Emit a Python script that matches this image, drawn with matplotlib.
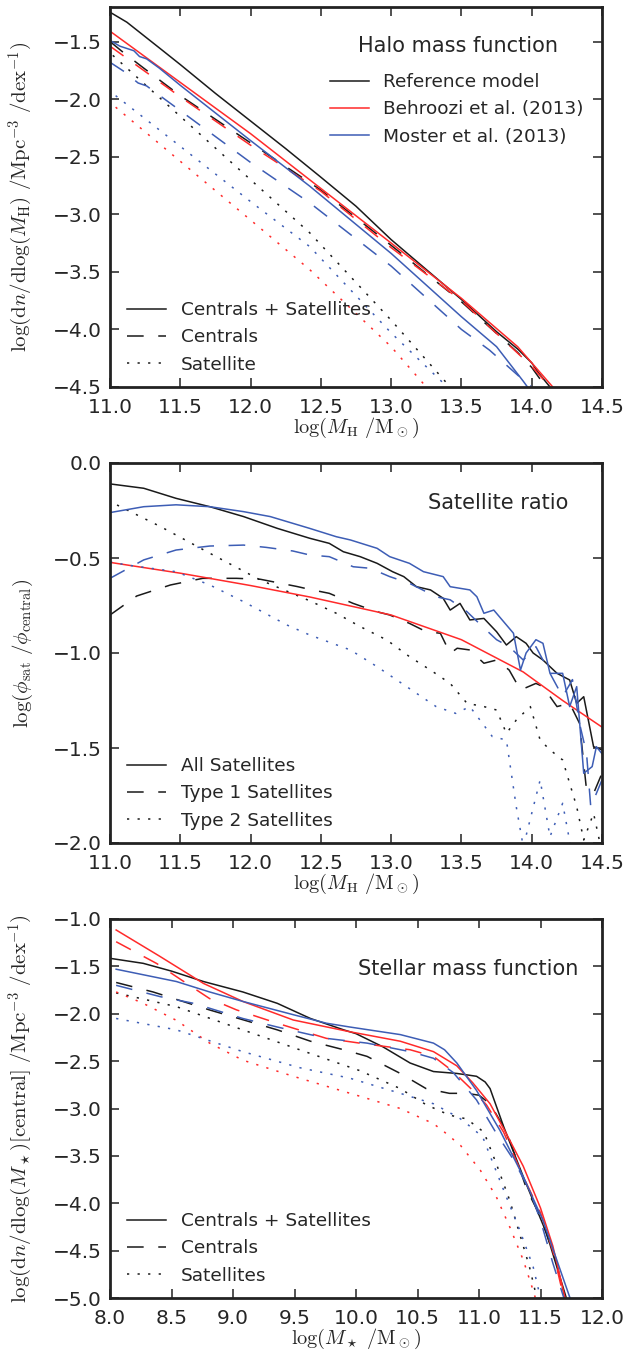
import numpy as np
import matplotlib
matplotlib.use('Agg')
import matplotlib.pyplot as plt
from matplotlib.lines import Line2D

plt.rcParams['font.family'] = ['DejaVu Sans']
plt.rcParams['mathtext.fontset'] = 'cm'
plt.rcParams['lines.scale_dashes'] = False

BLK, RED, BLU = '#1a1a1a', '#ff2a2a', '#3d5db5'
DASH = (0, (12, 10.5))
DOT = (0, (1.6, 6.0))

# ---- panel 1: halo mass function, log(M_H) vs log(dn/dlogM)
hmf_ref_all_x = [11.0, 11.12, 11.24, 11.36, 11.5, 11.75, 12.0, 12.25, 12.49, 12.75, 13.0, 13.25, 13.5, 13.75, 13.9, 14.0, 14.05, 14.13]
hmf_ref_all_y = [-1.245, -1.332, -1.448, -1.564, -1.70, -1.95, -2.19, -2.43, -2.668, -2.93, -3.22, -3.48, -3.74, -4.02, -4.17, -4.29, -4.38, -4.5]
hmf_ref_cen_x = [11.0, 11.1, 11.25, 11.5, 12.0, 12.5, 13.0, 13.5, 13.9, 14.0, 14.1]
hmf_ref_cen_y = [-1.50, -1.60, -1.74, -1.97, -2.38, -2.79, -3.27, -3.76, -4.2, -4.33, -4.5]
hmf_ref_sat_x = [11.02, 11.5, 12.0, 12.42, 13.0, 13.42]
hmf_ref_sat_y = [-1.62, -2.15, -2.70, -3.16, -3.92, -4.5]
hmf_beh_all_x = [11.0, 11.5, 12.0, 12.42, 13.0, 13.5, 13.9, 14.15]
hmf_beh_all_y = [-1.41, -1.855, -2.30, -2.70, -3.25, -3.73, -4.15, -4.5]
hmf_beh_cen_x = [11.0, 11.5, 12.0, 12.5, 13.0, 13.5, 14.0, 14.13]
hmf_beh_cen_y = [-1.54, -1.98, -2.40, -2.80, -3.29, -3.75, -4.32, -4.5]
hmf_beh_sat_x = [11.04, 11.5, 12.0, 12.42, 13.0, 13.25]
hmf_beh_sat_y = [-2.07, -2.54, -3.05, -3.48, -4.15, -4.5]
hmf_mos_all_x = [11.0, 11.07, 11.17, 11.21, 11.26, 11.35, 11.5, 12.0, 12.42, 13.0, 13.5, 13.75, 13.94, 13.97]
hmf_mos_all_y = [-1.49, -1.54, -1.58, -1.63, -1.65, -1.73, -1.88, -2.36, -2.755, -3.34, -3.89, -4.15, -4.45, -4.5]
hmf_mos_cen_x = [11.0, 11.1, 11.2, 11.26, 11.5, 12.0, 12.42, 13.0, 13.5, 13.7, 13.94, 14.0]
hmf_mos_cen_y = [-1.68, -1.76, -1.86, -1.885, -2.10, -2.55, -2.90, -3.45, -4.0, -4.18, -4.44, -4.5]
hmf_mos_sat_x = [11.04, 11.5, 12.0, 12.42, 13.0, 13.4]
hmf_mos_sat_y = [-1.97, -2.41, -2.89, -3.28, -4.03, -4.5]

# ---- panel 2: satellite ratio
sr_ref_all_x = [11.0, 11.24, 11.47, 11.71, 11.95, 12.19, 12.42, 12.56, 12.66, 12.78, 12.90, 13.01, 13.09, 13.18, 13.28, 13.37, 13.42, 13.49, 13.56, 13.66, 13.75, 13.82, 13.89, 13.96, 14.01, 14.08, 14.18, 14.27, 14.32, 14.37, 14.44, 14.5]
sr_ref_all_y = [-0.11, -0.133, -0.186, -0.23, -0.282, -0.344, -0.396, -0.423, -0.467, -0.493, -0.528, -0.572, -0.598, -0.651, -0.668, -0.712, -0.774, -0.739, -0.826, -0.818, -0.888, -0.958, -0.914, -0.949, -1.0, -1.037, -1.107, -1.142, -1.265, -1.23, -1.493, -1.51]
sr_ref_t1_x = [11.0, 11.19, 11.43, 11.66, 11.9, 12.07, 12.33, 12.42, 12.56, 12.73, 12.9, 12.99, 13.13, 13.25, 13.35, 13.42, 13.47, 13.56, 13.66, 13.75, 13.84, 13.92, 14.03, 14.08, 14.18, 14.27, 14.34, 14.39, 14.44, 14.5]
sr_ref_t1_y = [-0.8, -0.70, -0.642, -0.607, -0.607, -0.612, -0.65, -0.665, -0.686, -0.739, -0.783, -0.8, -0.844, -0.888, -0.896, -1.002, -0.975, -0.984, -1.054, -1.037, -1.09, -1.195, -1.16, -1.177, -1.282, -1.265, -1.37, -1.721, -1.739, -1.633]
sr_ref_t2_x = [11.05, 11.36, 11.71, 12.07, 12.42, 12.61, 12.78, 12.97, 13.13, 13.28, 13.42, 13.54, 13.66, 13.75, 13.82, 13.89, 13.99, 14.06, 14.13, 14.22, 14.32, 14.37, 14.44, 14.5]
sr_ref_t2_y = [-0.221, -0.335, -0.475, -0.616, -0.725, -0.791, -0.861, -0.932, -1.019, -1.09, -1.16, -1.265, -1.282, -1.3, -1.423, -1.353, -1.282, -1.458, -1.51, -1.563, -1.809, -1.984, -1.844, -2.05]
sr_beh_x = [11.0, 11.5, 12.0, 12.42, 13.0, 13.5, 13.94, 14.22, 14.5]
sr_beh_y = [-0.523, -0.58, -0.645, -0.705, -0.80, -0.93, -1.1, -1.25, -1.39]
sr_mos_all_x = [11.0, 11.24, 11.47, 11.71, 11.95, 12.14, 12.42, 12.61, 12.71, 12.90, 12.99, 13.13, 13.23, 13.37, 13.42, 13.56, 13.61, 13.66, 13.73, 13.87, 13.92, 13.96, 14.03, 14.08, 14.13, 14.22, 14.27, 14.32, 14.37, 14.43, 14.46, 14.5]
sr_mos_all_y = [-0.261, -0.23, -0.22, -0.23, -0.256, -0.282, -0.344, -0.388, -0.405, -0.449, -0.493, -0.528, -0.572, -0.598, -0.651, -0.668, -0.704, -0.791, -0.774, -0.896, -1.09, -1.0, -0.93, -0.949, -1.107, -1.107, -1.282, -1.177, -1.633, -1.598, -1.493, -1.53]
sr_mos_t1_x = [11.0, 11.24, 11.47, 11.71, 11.95, 12.11, 12.3, 12.42, 12.56, 12.73, 12.85, 12.99, 13.13, 13.32, 13.42, 13.54, 13.65, 13.75, 13.84, 13.94, 14.03, 14.13, 14.22, 14.29, 14.34, 14.39, 14.42, 14.5]
sr_mos_t1_y = [-0.607, -0.51, -0.458, -0.437, -0.432, -0.444, -0.463, -0.484, -0.493, -0.546, -0.554, -0.598, -0.633, -0.704, -0.72, -0.783, -0.861, -0.93, -0.967, -1.037, -0.967, -1.107, -1.23, -1.14, -1.37, -1.528, -1.81, -1.668]
sr_mos_t2_x = [11.0, 11.12, 11.47, 11.71, 11.95, 12.26, 12.42, 12.71, 12.9, 13.04, 13.18, 13.32, 13.46, 13.56, 13.72, 13.82, 13.89, 13.94, 14.06, 14.13, 14.22, 14.29]
sr_mos_t2_y = [-0.52, -0.537, -0.572, -0.642, -0.73, -0.853, -0.905, -0.984, -1.072, -1.142, -1.212, -1.282, -1.318, -1.282, -1.44, -1.458, -1.809, -2.02, -1.668, -1.967, -1.791, -2.07]

# ---- panel 3: stellar mass function
smf_ref_all_x = [8.0, 8.27, 8.5, 8.76, 9.08, 9.36, 9.545, 9.63, 9.9, 10.0, 10.22, 10.44, 10.63, 10.82, 10.98, 11.05, 11.09, 11.2, 11.36, 11.55, 11.71]
smf_ref_all_y = [-1.415, -1.468, -1.55, -1.66, -1.77, -1.89, -2.0, -2.05, -2.17, -2.21, -2.35, -2.52, -2.61, -2.63, -2.66, -2.72, -2.79, -3.19, -3.72, -4.32, -5.0]
smf_ref_cen_x = [8.05, 8.35, 8.81, 9.36, 9.63, 9.9, 10.09, 10.36, 10.57, 10.76, 10.9, 11.0, 11.09, 11.23, 11.39, 11.5, 11.63, 11.7]
smf_ref_cen_y = [-1.67, -1.77, -1.96, -2.17, -2.29, -2.38, -2.45, -2.63, -2.79, -2.84, -2.84, -2.86, -2.95, -3.26, -3.86, -4.14, -4.63, -5.0]
smf_ref_sat_x = [8.05, 8.54, 9.08, 9.63, 10.03, 10.36, 10.57, 10.76, 10.9, 11.04, 11.14, 11.25, 11.33, 11.41, 11.47]
smf_ref_sat_y = [-1.78, -1.925, -2.17, -2.42, -2.6, -2.79, -2.96, -3.07, -3.11, -3.25, -3.58, -3.97, -4.32, -4.67, -5.0]
smf_beh_all_x = [8.05, 8.4, 8.76, 9.08, 9.49, 9.95, 10.36, 10.63, 10.82, 10.95, 11.09, 11.22, 11.36, 11.5, 11.6, 11.7]
smf_beh_all_y = [-1.116, -1.39, -1.68, -1.87, -2.066, -2.19, -2.29, -2.40, -2.55, -2.73, -2.95, -3.26, -3.61, -4.05, -4.45, -5.0]
smf_beh_cen_x = [8.05, 8.38, 8.6, 8.81, 9.03, 9.36, 9.76, 10.03, 10.44, 10.63, 10.79, 10.95, 11.06, 11.2, 11.36, 11.5, 11.6, 11.69]
smf_beh_cen_y = [-1.24, -1.47, -1.66, -1.84, -1.96, -2.1, -2.26, -2.31, -2.38, -2.45, -2.61, -2.81, -2.96, -3.25, -3.72, -4.1, -4.5, -5.0]
smf_beh_sat_x = [8.05, 8.27, 8.54, 8.81, 9.08, 9.49, 10.03, 10.36, 10.63, 10.72, 10.85, 11.01, 11.14, 11.25, 11.36, 11.44, 11.47]
smf_beh_sat_y = [-1.77, -1.89, -2.07, -2.31, -2.49, -2.66, -2.87, -3.0, -3.16, -3.25, -3.39, -3.65, -3.93, -4.25, -4.6, -4.92, -5.05]
smf_mos_all_x = [8.05, 8.54, 8.81, 9.08, 9.49, 9.76, 9.95, 10.36, 10.63, 10.72, 10.82, 10.98, 11.17, 11.36, 11.52, 11.74]
smf_mos_all_y = [-1.53, -1.66, -1.77, -1.87, -2.01, -2.1, -2.14, -2.22, -2.31, -2.38, -2.52, -2.81, -3.23, -3.72, -4.18, -5.0]
smf_mos_cen_x = [8.05, 8.41, 8.68, 9.08, 9.36, 9.76, 10.09, 10.44, 10.63, 10.79, 10.98, 11.14, 11.28, 11.41, 11.5, 11.6, 11.69]
smf_mos_cen_y = [-1.70, -1.82, -1.89, -2.05, -2.14, -2.26, -2.31, -2.40, -2.47, -2.62, -2.91, -3.26, -3.54, -3.86, -4.18, -4.63, -5.0]
smf_mos_sat_x = [8.05, 8.54, 9.08, 9.545, 9.95, 10.36, 10.63, 10.84, 10.9, 11.03, 11.2, 11.33, 11.44, 11.5]
smf_mos_sat_y = [-2.05, -2.17, -2.40, -2.57, -2.68, -2.84, -2.95, -3.10, -3.16, -3.3, -3.86, -4.28, -4.67, -5.0]

fig = plt.figure(figsize=(6.3, 13.63), dpi=100)
H = 380 / 1363
axes = [fig.add_axes([110/630, 976/1363, 492/630, H]),
        fig.add_axes([110/630, 520/1363, 492/630, H]),
        fig.add_axes([110/630, 65/1363, 492/630, 379/1363])]

LW = 1.1
def draw(ax, x, y, c, ls):
    ax.plot(x, y, color=c, lw=LW, linestyle=ls)

a1, a2, a3 = axes
for c, (xa, ya, xc, yc, xs, ys) in zip([BLK, RED, BLU], [
        (hmf_ref_all_x, hmf_ref_all_y, hmf_ref_cen_x, hmf_ref_cen_y, hmf_ref_sat_x, hmf_ref_sat_y),
        (hmf_beh_all_x, hmf_beh_all_y, hmf_beh_cen_x, hmf_beh_cen_y, hmf_beh_sat_x, hmf_beh_sat_y),
        (hmf_mos_all_x, hmf_mos_all_y, hmf_mos_cen_x, hmf_mos_cen_y, hmf_mos_sat_x, hmf_mos_sat_y)]):
    draw(a1, xa, ya, c, '-'); draw(a1, xc, yc, c, DASH); draw(a1, xs, ys, c, DOT)

draw(a2, sr_ref_all_x, sr_ref_all_y, BLK, '-')
draw(a2, sr_ref_t1_x, sr_ref_t1_y, BLK, DASH)
draw(a2, sr_ref_t2_x, sr_ref_t2_y, BLK, DOT)
draw(a2, sr_beh_x, sr_beh_y, RED, '-')
draw(a2, sr_mos_all_x, sr_mos_all_y, BLU, '-')
draw(a2, sr_mos_t1_x, sr_mos_t1_y, BLU, DASH)
draw(a2, sr_mos_t2_x, sr_mos_t2_y, BLU, DOT)

for c, (xa, ya, xc, yc, xs, ys) in zip([BLK, RED, BLU], [
        (smf_ref_all_x, smf_ref_all_y, smf_ref_cen_x, smf_ref_cen_y, smf_ref_sat_x, smf_ref_sat_y),
        (smf_beh_all_x, smf_beh_all_y, smf_beh_cen_x, smf_beh_cen_y, smf_beh_sat_x, smf_beh_sat_y),
        (smf_mos_all_x, smf_mos_all_y, smf_mos_cen_x, smf_mos_cen_y, smf_mos_sat_x, smf_mos_sat_y)]):
    draw(a3, xa, ya, c, '-'); draw(a3, xc, yc, c, DASH); draw(a3, xs, ys, c, DOT)

# limits / ticks
a1.set_xlim(11, 14.5); a1.set_ylim(-4.5, -1.2)
a2.set_xlim(11, 14.5); a2.set_ylim(-2.0, 0.0)
a3.set_xlim(8, 12); a3.set_ylim(-5.0, -1.0)
a1.set_xticks(np.arange(11, 14.51, 0.5)); a1.set_yticks(np.arange(-4.5, -1.49, 0.5))
a2.set_xticks(np.arange(11, 14.51, 0.5)); a2.set_yticks(np.arange(-2.0, 0.01, 0.5))
a3.set_xticks(np.arange(8, 12.01, 0.5)); a3.set_yticks(np.arange(-5.0, -0.99, 0.5))

TXT = '#262626'
fmt = matplotlib.ticker.FuncFormatter(lambda v, p: f'{v:.1f}'.replace('-', '\u2212'))
for ax in axes:
    ax.xaxis.set_major_formatter(fmt)
    ax.yaxis.set_major_formatter(fmt)
    ax.tick_params(direction='in', length=6.8, width=1.1, top=True, right=True,
                   labelsize=14.5, labelcolor=TXT, color='#222222', pad=6)
    ax.tick_params(axis='x', pad=8)
    for s in ax.spines.values():
        s.set_linewidth(2.0); s.set_color('#222222')

LBL = 15
a1.set_ylabel(r'$\log(\mathrm{d}n/\mathrm{dlog}(M_{\rm H})\ /\mathrm{Mpc}^{-3}\ /\mathrm{dex}^{-1})$', fontsize=LBL, color=TXT)
a1.set_xlabel(r'$\log(M_{\rm H}\ /\mathrm{M}_\odot)$', fontsize=14.6, color=TXT, labelpad=-1)
a2.set_ylabel(r'$\log(\phi_{\rm sat}\ /\phi_{\rm central})$', fontsize=LBL, color=TXT)
a2.set_xlabel(r'$\log(M_{\rm H}\ /\mathrm{M}_\odot)$', fontsize=14.6, color=TXT, labelpad=-1)
a3.set_ylabel(r'$\log(\mathrm{d}n/\mathrm{dlog}(M_\star)[\mathrm{central}]\ /\mathrm{Mpc}^{-3}\ /\mathrm{dex}^{-1})$', fontsize=LBL, color=TXT)
a3.set_xlabel(r'$\log(M_\star\ /\mathrm{M}_\odot)$', fontsize=14.6, color=TXT, labelpad=-1)
for ax in axes:
    ax.yaxis.set_label_coords(-0.152, 0.5)

# legends
LEG = dict(frameon=False, fontsize=13.3, handlelength=2.1, handletextpad=0.8,
           labelspacing=0.5, borderaxespad=0, borderpad=0)
def ls_legend(ax, labels):
    h = [Line2D([], [], color=BLK, lw=LW, linestyle=s) for s in ['-', DASH, DOT]]
    leg = ax.legend(h, labels, loc='lower left', bbox_to_anchor=(0.035, 0.035), **LEG)
    for t in leg.get_texts(): t.set_color(TXT)
    return leg

lg = a1.legend([Line2D([], [], color=c, lw=LW) for c in [BLK, RED, BLU]],
               ['Reference model', 'Behroozi et al. (2013)', 'Moster et al. (2013)'],
               loc='upper left', bbox_to_anchor=(0.447, 0.826), **LEG)
for t in lg.get_texts(): t.set_color(TXT)
a1.add_artist(lg)
ls_legend(a1, ['Centrals + Satellites', 'Centrals', 'Satellite'])
ls_legend(a2, ['All Satellites', 'Type 1 Satellites', 'Type 2 Satellites'])
ls_legend(a3, ['Centrals + Satellites', 'Centrals', 'Satellites'])

a1.text(0.708, 0.897, 'Halo mass function', transform=a1.transAxes, ha='center', va='center', fontsize=15, color=TXT)
a2.text(0.788, 0.895, 'Satellite ratio', transform=a2.transAxes, ha='center', va='center', fontsize=15, color=TXT)
a3.text(0.729, 0.868, 'Stellar mass function', transform=a3.transAxes, ha='center', va='center', fontsize=15, color=TXT)

fig.savefig('out.png', dpi=100)
